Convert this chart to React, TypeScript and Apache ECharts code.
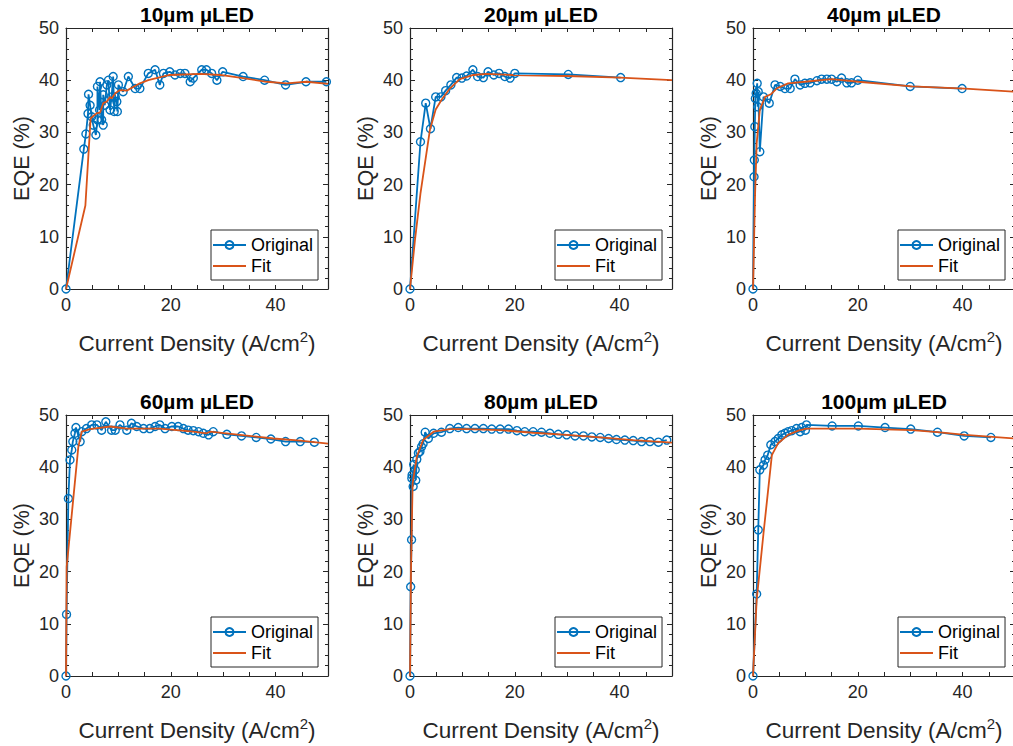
import React, { useEffect, useRef } from "react";
import * as echarts from "echarts";

// ---------- data ----------
const panelTitles = ["10µm µLED", "20µm µLED", "40µm µLED", "60µm µLED", "80µm µLED", "100µm µLED"];
const xLabelTicks = [0, 20, 40];
const yLabelTicks = [0, 10, 20, 30, 40, 50];

const orig10X = [0, 3.4, 3.8, 4.2, 4.3, 4.6, 4.9, 5.2, 5.7, 6.0, 6.0, 6.4, 6.5, 6.8, 7.1, 7.1, 7.4, 7.8, 8.1, 8.4, 8.7, 9.0, 9.2, 9.4, 9.7, 9.8, 10.0, 10.9, 11.9, 13.2, 14.1, 15.7, 17.0, 17.9, 18.6, 19.8, 20.8, 21.8, 22.7, 23.7, 24.3, 25.9, 26.8, 27.8, 28.8, 29.9, 33.8, 37.9, 41.9, 45.8, 49.7];
const orig10Y = [0, 26.8, 29.7, 33.6, 37.3, 35.2, 33.0, 31.4, 29.5, 32.4, 38.8, 34.3, 39.7, 32.4, 31.4, 37.2, 35.2, 39.1, 40.0, 34.3, 36.8, 40.7, 34.0, 36.8, 35.9, 34.0, 39.1, 37.8, 40.7, 38.4, 38.4, 41.3, 42.0, 39.1, 41.3, 41.6, 41.0, 41.3, 41.3, 39.7, 40.4, 42.0, 42.0, 41.3, 40.0, 41.6, 40.7, 40.0, 39.1, 39.7, 39.7];
const fit10X = [0, 3.7, 4.7, 5.9, 6.5, 7.1, 7.8, 8.4, 8.7, 9.4, 10.3, 11.6, 14.1, 15.7, 19.8, 25.6, 29.4, 33.8, 38.3, 42.1, 45.9, 50];
const fit10Y = [0, 16.0, 32.7, 33.7, 33.8, 35.6, 35.9, 36.8, 36.5, 37.5, 38.1, 38.0, 39.4, 40.0, 41.0, 41.2, 41.0, 40.4, 39.7, 39.4, 39.7, 39.3];

const orig20X = [0, 2.0, 3.0, 3.9, 4.9, 5.9, 6.8, 7.8, 8.9, 9.9, 10.8, 12.0, 12.9, 14.0, 14.9, 16.0, 17.0, 18.1, 19.1, 20.0, 30.2, 40.2];
const orig20Y = [0, 28.2, 35.6, 30.7, 36.8, 36.8, 38.0, 39.1, 40.5, 40.4, 40.8, 42.0, 40.7, 40.5, 41.6, 41.0, 41.3, 40.7, 40.4, 41.3, 41.1, 40.5];
const fit20X = [0, 0.95, 2.0, 3.8, 4.9, 6.0, 7.6, 9.5, 12.1, 14.6, 19.7, 29.9, 40.1, 50];
const fit20Y = [0, 9.4, 18.3, 30.5, 34.4, 36.2, 38.4, 40.2, 41.0, 41.2, 41.0, 40.8, 40.5, 40.0];

const orig40X = [0, 0.2, 0.25, 0.35, 0.45, 0.6, 0.8, 0.9, 1.0, 1.3, 2.0, 3.1, 4.2, 5.2, 6.1, 7.1, 8.0, 9.0, 9.9, 10.9, 12.2, 13.1, 14.1, 15.0, 16.0, 16.9, 17.9, 18.8, 20.0, 30.0, 39.9];
const orig40Y = [0, 21.5, 24.7, 31.1, 36.5, 37.5, 39.4, 34.9, 37.8, 26.3, 36.8, 35.6, 39.1, 38.8, 38.4, 38.4, 40.2, 39.1, 39.4, 39.5, 39.9, 40.2, 40.2, 40.2, 39.7, 40.4, 39.5, 39.5, 40.0, 38.8, 38.4];
const fit40X = [0, 0.4, 0.7, 1.3, 2.3, 3.4, 4.5, 6.7, 9.9, 15.0, 20.1, 30.3, 40.5, 50];
const fit40Y = [0, 18.3, 27.9, 34.3, 36.8, 37.3, 38.4, 39.4, 39.7, 40.2, 39.7, 38.8, 38.4, 37.8];

const orig60X = [0, 0.1, 0.45, 0.76, 1.1, 1.3, 1.7, 1.9, 2.7, 3.0, 3.9, 4.9, 5.9, 6.8, 7.6, 8.7, 9.4, 10.3, 11.6, 12.5, 13.5, 14.8, 16.0, 17.0, 17.9, 18.9, 20.2, 21.4, 22.4, 23.3, 24.3, 25.3, 26.2, 27.2, 28.1, 30.7, 33.5, 36.3, 39.1, 41.9, 44.7, 47.4];
const orig60Y = [0, 11.8, 34.0, 41.4, 43.3, 44.9, 46.5, 47.6, 44.9, 46.8, 47.4, 48.1, 48.1, 47.1, 48.7, 47.1, 47.1, 48.1, 47.1, 48.4, 47.8, 47.4, 47.4, 47.8, 48.1, 47.4, 47.8, 47.8, 47.4, 47.1, 47.0, 46.8, 46.5, 46.2, 46.8, 46.3, 46.0, 45.7, 45.4, 44.9, 44.9, 44.8];
const fit60X = [0, 0.13, 2.35, 3.0, 4.6, 8.4, 11.6, 17.9, 24.3, 26.8, 27.5, 33.2, 39.6, 44.7, 50];
const fit60Y = [0, 20.9, 43.9, 46.8, 47.3, 47.8, 47.4, 47.4, 46.8, 46.5, 46.8, 46.2, 45.5, 45.1, 44.5];

const orig80X = [0, 0.13, 0.3, 0.35, 0.4, 0.6, 0.7, 1.0, 1.1, 1.3, 1.6, 1.9, 2.2, 2.5, 2.9, 3.5, 4.5, 6.0, 7.6, 9.2, 10.8, 12.4, 14.0, 15.6, 17.2, 18.8, 20.4, 21.9, 23.5, 25.1, 26.7, 28.3, 29.9, 31.5, 33.1, 34.7, 36.3, 37.9, 39.4, 41.0, 42.6, 44.2, 45.8, 47.4, 49.0];
const orig80Y = [0, 17.1, 26.1, 37.9, 38.5, 36.3, 40.5, 39.5, 37.5, 41.5, 42.7, 43.0, 43.9, 44.5, 46.7, 45.5, 46.5, 46.7, 47.4, 47.6, 47.4, 47.4, 47.4, 47.3, 47.3, 47.3, 47.0, 46.8, 46.8, 46.7, 46.5, 46.3, 46.2, 46.0, 46.0, 45.8, 45.7, 45.5, 45.3, 45.2, 45.1, 44.9, 44.9, 44.8, 45.2];
const fit80X = [0, 0.2, 0.5, 1.3, 2.5, 4.5, 7.6, 10.8, 17.2, 23.5, 29.9, 36.3, 42.6, 50];
const fit80Y = [0, 20.9, 36.9, 42.0, 45.2, 46.8, 47.3, 47.3, 47.1, 46.6, 46.2, 45.7, 45.2, 44.7];

const orig100X = [0, 0.7, 1.0, 1.3, 2.0, 2.3, 2.8, 3.4, 4.2, 4.8, 5.5, 6.1, 6.7, 7.4, 8.3, 9.0, 9.3, 10.0, 10.2, 15.1, 20.1, 25.2, 30.1, 35.2, 40.3, 45.4];
const orig100Y = [0, 15.7, 28.0, 39.5, 40.4, 41.4, 42.3, 44.3, 44.9, 45.5, 46.2, 46.5, 46.8, 47.0, 47.4, 46.8, 47.6, 47.1, 48.1, 47.9, 47.9, 47.6, 47.3, 46.7, 46.0, 45.7];
const fit100X = [0, 0.7, 2.0, 3.6, 4.8, 6.7, 8.65, 10.2, 15.0, 20.1, 30.3, 35.2, 40.5, 50];
const fit100Y = [0, 14.6, 27.3, 42.3, 44.6, 46.2, 47.0, 47.4, 47.4, 47.4, 47.1, 46.7, 46.2, 45.5];

const originalXs = [orig10X, orig20X, orig40X, orig60X, orig80X, orig100X];
const originalYs = [orig10Y, orig20Y, orig40Y, orig60Y, orig80Y, orig100Y];
const fitXs = [fit10X, fit20X, fit40X, fit60X, fit80X, fit100X];
const fitYs = [fit10Y, fit20Y, fit40Y, fit60Y, fit80Y, fit100Y];

// ---------- layout / style ----------
const FONT = "'Liberation Sans', Arial, Helvetica, sans-serif";
const TXT = "#262626";
const BLUE = "#0072BD";
const ORANGE = "#D95319";
const GRID_LEFTS = [66, 410, 753];
const GRID_TOPS = [28, 415];
const GW = 262;
const GH = 261;

const zip = (xs: number[], ys: number[]) => xs.map((x, i) => [x, ys[i]]);

function buildOption() {
  const grid: any[] = [];
  const xAxis: any[] = [];
  const yAxis: any[] = [];
  const series: any[] = [];
  const legend: any[] = [];
  const graphic: any[] = [];

  panelTitles.forEach((title, i) => {
    const col = i % 3;
    const row = Math.floor(i / 3);
    const left = GRID_LEFTS[col];
    const top = GRID_TOPS[row];
    grid.push({ left, top, width: GW, height: GH, containLabel: false, show: false });

    const lineCfg = { show: true, onZero: false, lineStyle: { color: TXT, width: 1.2 } };
    const xCommon = {
      type: "value", gridIndex: i, min: 0, max: 50, interval: 5,
      axisLine: lineCfg, splitLine: { show: false },
      axisTick: { show: true, inside: true, length: 4, lineStyle: { color: TXT, width: 1 } },
    };
    const yCommon = {
      type: "value", gridIndex: i, min: 0, max: 50, interval: 10,
      axisLine: lineCfg, splitLine: { show: false },
      axisTick: { show: true, inside: true, length: 5, lineStyle: { color: TXT, width: 1 } },
      minorTick: { show: true, splitNumber: 5, length: 3, lineStyle: { color: TXT, width: 1 } },
      minorSplitLine: { show: false },
    };
    xAxis.push({
      ...xCommon, position: "bottom",
      axisLabel: {
        show: true, margin: 7, fontSize: 18, color: TXT, fontFamily: FONT,
        formatter: (v: number) => (xLabelTicks.includes(v) ? String(v) : ""),
      },
      name: "{m|Current Density (A/cm}{s|2}{m|)}", nameLocation: "middle", nameGap: 35,
      nameTextStyle: {
        fontSize: 22.5, color: TXT, fontFamily: FONT,
        rich: {
          m: { fontSize: 22.5, color: TXT, fontFamily: FONT, padding: [8, 0, 0, 0] },
          s: { fontSize: 15, color: TXT, fontFamily: FONT, padding: [0, 0, 6, 0] },
        },
      },
    });
    xAxis.push({ ...xCommon, position: "top", axisLabel: { show: false } });
    yAxis.push({
      ...yCommon, position: "left",
      axisLabel: {
        show: true, margin: 7, fontSize: 18, color: TXT, fontFamily: FONT,
        formatter: (v: number) => (yLabelTicks.includes(v) ? String(v) : ""),
      },
      name: "EQE (%)", nameLocation: "middle", nameGap: 33,
      nameTextStyle: { fontSize: 21.5, color: TXT, fontFamily: FONT },
    });
    yAxis.push({ ...yCommon, position: "right", axisLabel: { show: false } });

    series.push({
      type: "line", name: "Original", xAxisIndex: 2 * i, yAxisIndex: 2 * i,
      data: zip(originalXs[i], originalYs[i]),
      symbol: "circle", symbolSize: 8, showSymbol: true, showAllSymbol: true,
      lineStyle: { color: BLUE, width: 1.8 },
      itemStyle: { color: "rgba(255,255,255,0)", borderColor: BLUE, borderWidth: 1.4 },
      emphasis: { disabled: true }, silent: true, z: 2,
    });
    series.push({
      type: "line", name: "Fit", xAxisIndex: 2 * i, yAxisIndex: 2 * i,
      data: zip(fitXs[i], fitYs[i]),
      symbol: "none", showSymbol: false,
      lineStyle: { color: ORANGE, width: 1.8 },
      itemStyle: { color: ORANGE },
      emphasis: { disabled: true }, silent: true, z: 3,
    });

    legend.push({
      show: true, orient: "vertical", selectedMode: false,
      left: left + GW - 117, top: top + GH - 9 - 50,
      data: [
        { name: "Original" },
        { name: "Fit", icon: "path://M0,0L33,0L33,1.8L0,1.8Z", itemStyle: { color: ORANGE } },
      ],
      itemWidth: 33, itemHeight: 10, itemGap: 3,
      padding: [6, 5, 5, 1],
      backgroundColor: "#ffffff", borderColor: TXT, borderWidth: 1, borderRadius: 0,
      textStyle: { fontSize: 18, color: "#000", fontFamily: FONT },
    });

    graphic.push({
      type: "text", x: left + GW / 2, y: top - 14,
      style: {
        text: title, fontSize: 21, fontWeight: "bold", fontFamily: FONT, fill: "#000",
        align: "center", verticalAlign: "middle",
      },
    });
  });

  return { animation: false, backgroundColor: "#ffffff", grid, xAxis, yAxis, series, legend, graphic };
}

export default function App() {
  const ref = useRef<HTMLDivElement>(null);
  useEffect(() => {
    if (!ref.current) return;
    const chart = echarts.init(ref.current, null, { renderer: "svg" });
    chart.setOption(buildOption() as any);
    return () => chart.dispose();
  }, []);
  return (
    <div style={{ position: "absolute", left: 0, top: 0, width: 1013, height: 746, overflow: "hidden" }}>
      <div ref={ref} style={{ width: 1040, height: 746 }} />
    </div>
  );
}
